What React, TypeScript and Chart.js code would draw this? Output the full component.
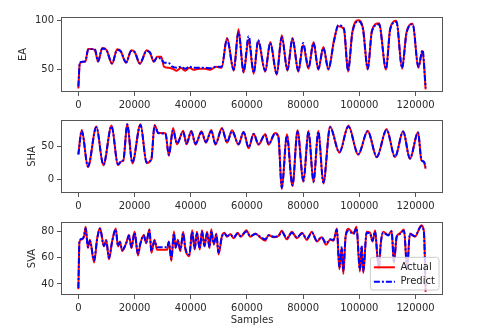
import React, { useEffect, useRef } from "react";
import { Chart, registerables } from "chart.js";
Chart.register(...registerables);

// ---------- data ----------
const xTicks = [0, 20000, 40000, 60000, 80000, 100000, 120000];
const eaTicks = [50, 100];
const shaTicks = [0, 50];
const svaTicks = [40, 60, 80];
const seriesLabels = ["Actual", "Predict"];

const eaX = [0, 500, 1500, 2500, 3500, 5000, 6000, 7000, 8500, 10000, 12000, 13800, 15000, 17000, 18800, 20000, 21900, 24300, 25500, 26900, 28000, 29500, 30500, 32000, 33500, 35000, 36500, 38000, 39500, 41000, 43000, 45000, 47000, 49000, 51000, 52900, 55300, 57000, 58800, 60600, 62400, 64000, 66500, 68300, 70600, 72400, 74400, 76200, 78300, 80000, 81900, 83700, 85400, 87200, 89000, 91000, 92500, 94500, 96000, 97500, 99600, 101300, 103000, 104500, 107000, 109500, 111000, 113200, 115200, 116800, 119000, 121000, 122500, 123600];
const eaActual = [31, 56, 58, 58, 71, 71, 69, 58, 72, 70, 56, 70.6, 69, 57, 69.6, 68, 56, 69.6, 67, 58, 63, 63, 53, 52, 51, 49, 52, 49, 52, 50, 51, 51, 50, 53, 52, 82, 49, 91, 47, 80, 46, 79, 48, 78, 45, 85, 49, 82, 48, 75, 51, 78, 50, 73, 50, 80, 94, 91, 48, 88, 100, 92, 50, 90, 97, 50, 92, 99.5, 51, 88, 96.5, 52, 69, 30];
const eaPredict = [33, 57, 58, 59, 70.5, 71, 70, 58.5, 71.5, 70, 56.5, 70, 69, 57.5, 69, 68, 56.5, 69, 67.5, 58.5, 62, 61, 57, 57, 53, 52, 53, 51, 53, 52, 52, 52, 51.5, 53, 53, 81, 50, 88, 48, 84, 47, 80, 49, 77, 46, 83, 50, 81, 49, 77, 52, 77, 51, 72, 51, 79, 95, 92, 49, 87, 99, 91, 51, 89, 96, 51, 91, 98.5, 52, 87, 96, 53, 70, 32];

const shaX = [0, 1200, 3400, 6400, 8900, 11800, 14100, 15300, 16000, 17400, 19200, 22100, 24300, 26000, 27100, 28500, 31000, 32200, 33700, 35100, 37300, 38500, 40200, 41700, 43800, 45400, 47300, 48800, 51100, 52900, 54700, 57000, 58800, 60600, 62400, 64100, 66500, 67700, 70000, 71200, 72400, 74200, 76200, 78000, 80100, 81900, 83700, 85400, 87200, 89600, 92900, 96100, 99600, 103000, 106200, 109700, 112700, 115600, 118000, 120900, 122100, 123000, 123600];
const shaActual = [38, 74, 18.5, 79, 21, 80.5, 21.5, 27, 28, 83, 24, 82.5, 24.5, 30, 81.5, 69.5, 69, 35.5, 77, 52.5, 73, 52.5, 73, 52, 72, 55, 74, 52, 77, 55, 73.5, 52, 71.5, 46.5, 68.5, 52, 67.5, 52, 69.5, 64, -14.5, 67.5, -10, 73.5, -3.5, 73, -4.5, 73, -6, 79, 40, 80.5, 37, 73, 33, 75.5, 33, 72.5, 30.5, 71, 28.5, 26, 16];
const shaPredict = [37, 73, 19.5, 78, 22, 79.5, 22.5, 27.5, 29, 82, 25, 81.5, 25.5, 31, 80, 69, 68.5, 37, 73, 54, 71, 54, 71.5, 53.5, 70.5, 56, 72.5, 53.5, 75.5, 56, 72, 53, 70.5, 48, 68, 53, 67, 53, 68.5, 63, -12.5, 65.5, -8.5, 71.5, -2, 71.5, -3, 71.5, -4.5, 77.5, 41, 79, 38, 72, 34, 74, 34, 71.5, 31.5, 70, 29, 26.5, 18];

const svaX = [0, 400, 1400, 2000, 2600, 3400, 4100, 5600, 6700, 7700, 9100, 9900, 10900, 12000, 13300, 14100, 14800, 15600, 17200, 18000, 18900, 20000, 21200, 22100, 23300, 24100, 25300, 26000, 27100, 28000, 31600, 32200, 33100, 34000, 34600, 35400, 36300, 37300, 38100, 39500, 40500, 41400, 42200, 43200, 44000, 44900, 45800, 46700, 47300, 48200, 49100, 49900, 51100, 52000, 52900, 54100, 55300, 56700, 57800, 59800, 61200, 63000, 64700, 66500, 67700, 69500, 71200, 72400, 74200, 76000, 77800, 79600, 81300, 83100, 84900, 86600, 88200, 89600, 90800, 92000, 92900, 93700, 94300, 95100, 96100, 97900, 99000, 100200, 100800, 101400, 102600, 103800, 104700, 105600, 106400, 107000, 107600, 108500, 110300, 111500, 112300, 113300, 114400, 115900, 117000, 118000, 119800, 122100, 123000, 123600];
const svaActual = [36, 72.3, 74, 76, 83.5, 67.4, 73.6, 56.3, 74.8, 82.7, 68.6, 73.6, 58.8, 72.3, 82.2, 68.6, 72.3, 65, 72.3, 77.3, 67.4, 79.8, 61.7, 71, 77.3, 71, 81.7, 63.7, 73.6, 66, 66, 72.3, 57.5, 80, 67.4, 73.6, 65, 79.8, 66.2, 61.2, 81, 66.2, 79.8, 66.2, 81, 68.6, 79.8, 67.4, 81.7, 69.9, 78.5, 62.5, 76.5, 79, 76, 78, 74.8, 79, 76, 81, 76, 78.5, 75.5, 73, 77.3, 75.5, 76.5, 80.5, 74, 79.8, 74.8, 79, 73.6, 79.8, 72.3, 75.5, 69.9, 73.6, 73, 82.2, 51.3, 67.4, 47.6, 76, 82, 78.5, 83.5, 49.4, 68.6, 48.4, 79.8, 79, 72.3, 81, 61.2, 51.3, 70, 79.8, 77.3, 80.5, 56, 76, 78.5, 81.5, 51.3, 78.5, 76, 84.7, 79.8, 34];
const svaPredict = [37, 73, 74.5, 76.5, 82.5, 68, 73, 58, 74.5, 82, 69, 73, 60, 72, 81.5, 69, 72, 66, 72, 77, 68, 79, 63, 71, 77, 71.5, 81, 65, 73, 68, 68, 72, 59, 78.5, 68, 73, 66, 78.5, 67, 62.5, 79.5, 67, 78.5, 67, 80, 69, 78.5, 68, 80.5, 70.5, 77.5, 64, 76, 78.5, 76.5, 77.5, 75.5, 78.5, 76.5, 80, 76.5, 78, 76, 74, 77, 76, 76.5, 79.5, 75, 79, 75.5, 78.5, 74.5, 79, 73, 75.5, 71, 74, 73.5, 81.5, 53, 68, 50, 75.5, 80.5, 78, 82.5, 51, 69, 50, 79, 78.5, 73, 80, 62, 53, 70.5, 79, 77, 80, 57, 76, 78, 80.5, 53, 78, 76.5, 84, 79, 35];

// ---------- styling / layout ----------
const FONT = '"DejaVu Sans", "Liberation Sans", sans-serif';
const AXIS_COLOR = "#555";
const TEXT_COLOR = "#2a2a2a";
const X_MIN = -6180;
const X_MAX = 129780;

type Panel = {
  name: string;
  x: number[];
  actual: number[];
  predict: number[];
  yTicks: number[];
  yMin: number;
  yMax: number;
  top: number;
  height: number;
  padTop: number;
  padLeft: number;
  xAxisHeight: number;
  xTitle: boolean;
  legend: boolean;
};

const panels: Panel[] = [
  { name: "EA", x: eaX, actual: eaActual, predict: eaPredict, yTicks: eaTicks, yMin: 27.4, yMax: 103.4, top: 0, height: 111, padTop: 17, padLeft: 17, xAxisHeight: 19, xTitle: false, legend: false },
  { name: "SHA", x: shaX, actual: shaActual, predict: shaPredict, yTicks: shaTicks, yMin: -20.3, yMax: 88.9, top: 111, height: 102, padTop: 7, padLeft: 26, xAxisHeight: 20, xTitle: false, legend: false },
  { name: "SVA", x: svaX, actual: svaActual, predict: svaPredict, yTicks: svaTicks, yMin: 31.6, yMax: 87.2, top: 213, height: 121, padTop: 7, padLeft: 26, xAxisHeight: 39, xTitle: true, legend: true },
];

const PLOT_LEFT = 61;
const PLOT_RIGHT_PAD = 59;

const framePlugin = {
  id: "frame",
  afterDatasetsDraw(chart: any) {
    const { ctx, chartArea: a } = chart;
    ctx.save();
    ctx.strokeStyle = AXIS_COLOR;
    ctx.lineWidth = 1;
    ctx.strokeRect(Math.round(a.left) + 0.5, Math.round(a.top) + 0.5, Math.round(a.right - a.left) - 1, Math.round(a.bottom - a.top) - 1);
    ctx.restore();
  },
};

const insideLegendPlugin = {
  id: "insideLegend",
  afterDraw(chart: any) {
    const { ctx, chartArea: a } = chart;
    const w = 68.6;
    const h = 32.7;
    const x0 = a.right - 4 - w;
    const y0 = a.bottom - 5 - h;
    ctx.save();
    ctx.beginPath();
    const r = 2.5;
    ctx.moveTo(x0 + r, y0);
    ctx.lineTo(x0 + w - r, y0);
    ctx.arcTo(x0 + w, y0, x0 + w, y0 + r, r);
    ctx.lineTo(x0 + w, y0 + h - r);
    ctx.arcTo(x0 + w, y0 + h, x0 + w - r, y0 + h, r);
    ctx.lineTo(x0 + r, y0 + h);
    ctx.arcTo(x0, y0 + h, x0, y0 + h - r, r);
    ctx.lineTo(x0, y0 + r);
    ctx.arcTo(x0, y0, x0 + r, y0, r);
    ctx.closePath();
    ctx.fillStyle = "rgba(255,255,255,0.8)";
    ctx.fill();
    ctx.strokeStyle = "#cccccc";
    ctx.lineWidth = 1;
    ctx.stroke();
    chart.data.datasets.forEach((ds: any, i: number) => {
      const cy = y0 + 10 + i * 14.4;
      ctx.strokeStyle = ds.borderColor;
      ctx.lineWidth = ds.borderWidth;
      ctx.setLineDash(ds.borderDash || []);
      ctx.beginPath();
      ctx.moveTo(x0 + 3.5, cy);
      ctx.lineTo(x0 + 24.5, cy);
      ctx.stroke();
      ctx.setLineDash([]);
      ctx.fillStyle = "#222";
      ctx.font = `10px ${FONT}`;
      ctx.textBaseline = "middle";
      ctx.textAlign = "left";
      ctx.fillText(ds.label, x0 + 30, cy);
    });
    ctx.restore();
  },
};

function PanelChart({ p }: { p: Panel }) {
  const ref = useRef<HTMLCanvasElement | null>(null);
  useEffect(() => {
    if (!ref.current) return;
    const chart = new Chart(ref.current, {
      type: "line",
      data: {
        datasets: [
          {
            label: seriesLabels[0],
            data: p.x.map((x, i) => ({ x, y: p.actual[i] })),
            borderColor: "#ff0000",
            borderWidth: 2,
            pointRadius: 0,
            cubicInterpolationMode: "monotone",
            fill: false,
            order: 2,
          },
          {
            label: seriesLabels[1],
            data: p.x.map((x, i) => ({ x, y: p.predict[i] })),
            borderColor: "#0000ff",
            borderWidth: 2,
            borderDash: [6, 2, 2, 2],
            pointRadius: 0,
            cubicInterpolationMode: "monotone",
            fill: false,
            order: 1,
          },
        ],
      },
      options: {
        responsive: false,
        animation: false,
        events: [],
        layout: { padding: { top: p.padTop, left: p.padLeft, right: PLOT_RIGHT_PAD, bottom: 0 } },
        plugins: { legend: { display: false }, tooltip: { enabled: false } },
        scales: {
          x: {
            type: "linear",
            min: X_MIN,
            max: X_MAX,
            afterBuildTicks: (s: any) => {
              s.ticks = xTicks.map((v) => ({ value: v }));
            },
            afterFit: (s: any) => {
              s.height = p.xAxisHeight;
            },
            ticks: {
              autoSkip: false,
              maxRotation: 0,
              padding: 3,
              color: TEXT_COLOR,
              font: { family: FONT, size: 10 },
              callback: (v: any) => String(v),
            },
            grid: { drawOnChartArea: false, drawTicks: true, tickLength: 4, color: AXIS_COLOR },
            border: { display: false },
            title: {
              display: p.xTitle,
              text: "Samples",
              color: TEXT_COLOR,
              font: { family: FONT, size: 10 },
              padding: { top: 0, bottom: 8 },
            },
          },
          y: {
            type: "linear",
            min: p.yMin,
            max: p.yMax,
            afterBuildTicks: (s: any) => {
              s.ticks = p.yTicks.map((v) => ({ value: v }));
            },
            afterFit: (s: any) => {
              s.width = PLOT_LEFT - p.padLeft;
            },
            ticks: {
              padding: 3,
              color: TEXT_COLOR,
              font: { family: FONT, size: 10 },
              callback: (v: any) => String(v),
            },
            grid: { drawOnChartArea: false, drawTicks: true, tickLength: 4, color: AXIS_COLOR },
            border: { display: false },
            title: {
              display: true,
              text: p.name,
              color: TEXT_COLOR,
              font: { family: FONT, size: 10 },
              padding: { top: 0, bottom: 0 },
            },
          },
        },
      } as any,
      plugins: p.legend ? [framePlugin, insideLegendPlugin] : [framePlugin],
    });
    return () => chart.destroy();
  }, [p]);
  return (
    <canvas
      ref={ref}
      width={502}
      height={p.height}
      style={{ position: "absolute", left: 0, top: p.top, width: 502, height: p.height }}
    />
  );
}

export default function App() {
  return (
    <div style={{ position: "absolute", left: 0, top: 0, width: 502, height: 334, background: "#fff", overflow: "hidden" }}>
      {panels.map((p) => (
        <PanelChart key={p.name} p={p} />
      ))}
    </div>
  );
}
